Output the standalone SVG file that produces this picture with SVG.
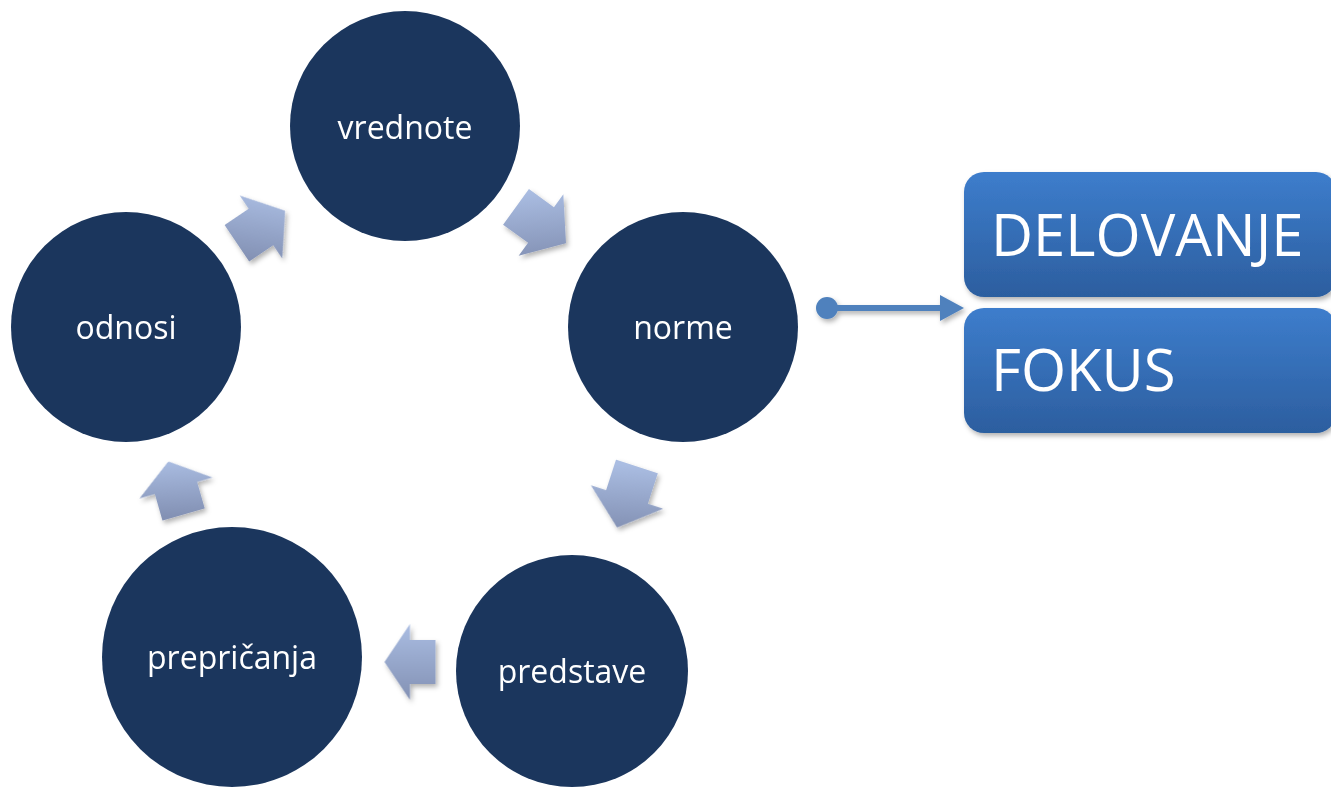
<svg xmlns="http://www.w3.org/2000/svg" width="1331" height="787" viewBox="0 0 1331 787">
  <defs>
    <linearGradient id="boxGrad" x1="0" y1="0" x2="0" y2="1">
      <stop offset="0" stop-color="#3d7dcc"/>
      <stop offset="1" stop-color="#2c5e9f"/>
    </linearGradient>
    <linearGradient id="ag1" x1="0" y1="0" x2="0" y2="1" gradientTransform="rotate(-36 0.5 0.5)"><stop offset="0" stop-color="#aabde2"/><stop offset="1" stop-color="#8391b4"/></linearGradient>
    <linearGradient id="ag2" x1="0" y1="0" x2="0" y2="1" gradientTransform="rotate(-108 0.5 0.5)"><stop offset="0" stop-color="#aabde2"/><stop offset="1" stop-color="#8391b4"/></linearGradient>
    <linearGradient id="ag3" x1="0" y1="0" x2="0" y2="1" gradientTransform="rotate(-180 0.5 0.5)"><stop offset="0" stop-color="#aabde2"/><stop offset="1" stop-color="#8391b4"/></linearGradient>
    <linearGradient id="ag4" x1="0" y1="0" x2="0" y2="1" gradientTransform="rotate(-252 0.5 0.5)"><stop offset="0" stop-color="#aabde2"/><stop offset="1" stop-color="#8391b4"/></linearGradient>
    <linearGradient id="ag5" x1="0" y1="0" x2="0" y2="1" gradientTransform="rotate(36 0.5 0.5)"><stop offset="0" stop-color="#aabde2"/><stop offset="1" stop-color="#8391b4"/></linearGradient>
    <filter id="shadow" x="-20%" y="-20%" width="150%" height="150%">
      <feDropShadow dx="2" dy="3" stdDeviation="2.5" flood-color="#000" flood-opacity="0.3"/>
    </filter>
    <path id="arr" d="M-30,-22 L0,-22 L0,-38 L30,0 L0,38 L0,22 L-30,22 Z"/>
  </defs>
  <style>
    .node { fill: #1b365d; }
    .lbl { font-family: "Open Sans", "Liberation Sans", sans-serif; font-size: 32px; fill: #ffffff; text-anchor: middle; }
    .box { fill: url(#boxGrad); filter: url(#shadow); }
    .boxlbl { font-family: "Open Sans", "Liberation Sans", sans-serif; font-size: 58px; fill: #ffffff; }
  </style>
  <rect width="1331" height="787" fill="#ffffff"/>

  <g id="cycle-arrows" filter="url(#shadow)">
    <use href="#arr" fill="url(#ag1)" transform="translate(541,225) rotate(36) scale(1.03,1)"/>
    <use href="#arr" fill="url(#ag2)" transform="translate(627,497) rotate(108) scale(1.07,1)"/>
    <use href="#arr" fill="url(#ag3)" transform="translate(410,662) rotate(180) scale(0.85,1)"/>
    <use href="#arr" fill="url(#ag4)" transform="translate(176,488) rotate(254) scale(0.92,1)"/>
    <use href="#arr" fill="url(#ag5)" transform="translate(261,227) rotate(-34) scale(0.97,1)"/>
  </g>

  <g id="node-vrednote">
    <circle class="node" cx="405" cy="126" r="115"/>
    <text class="lbl" x="405" y="139">vrednote</text>
  </g>
  <g id="node-norme">
    <circle class="node" cx="683" cy="327" r="115"/>
    <text class="lbl" x="683" y="339">norme</text>
  </g>
  <g id="node-predstave">
    <circle class="node" cx="572" cy="671" r="116"/>
    <text class="lbl" x="572" y="683">predstave</text>
  </g>
  <g id="node-prepricanja">
    <circle class="node" cx="232" cy="657" r="130"/>
    <text class="lbl" x="232" y="669">prepričanja</text>
  </g>
  <g id="node-odnosi">
    <circle class="node" cx="126" cy="327" r="115"/>
    <text class="lbl" x="126" y="339">odnosi</text>
  </g>

  <g id="connector" filter="url(#shadow)" fill="#4f81bd">
    <circle cx="827" cy="308" r="11"/>
    <rect x="827" y="305" width="116" height="6"/>
    <polygon points="940,295 964,308 940,321"/>
  </g>

  <g id="box-delovanje">
    <rect class="box" x="964" y="172" width="372" height="125" rx="20"/>
    <text class="boxlbl" x="991" y="256">DELOVANJE</text>
  </g>
  <g id="box-fokus">
    <rect class="box" x="964" y="308" width="372" height="125" rx="20"/>
    <text class="boxlbl" x="991" y="391">FOKUS</text>
  </g>
</svg>
